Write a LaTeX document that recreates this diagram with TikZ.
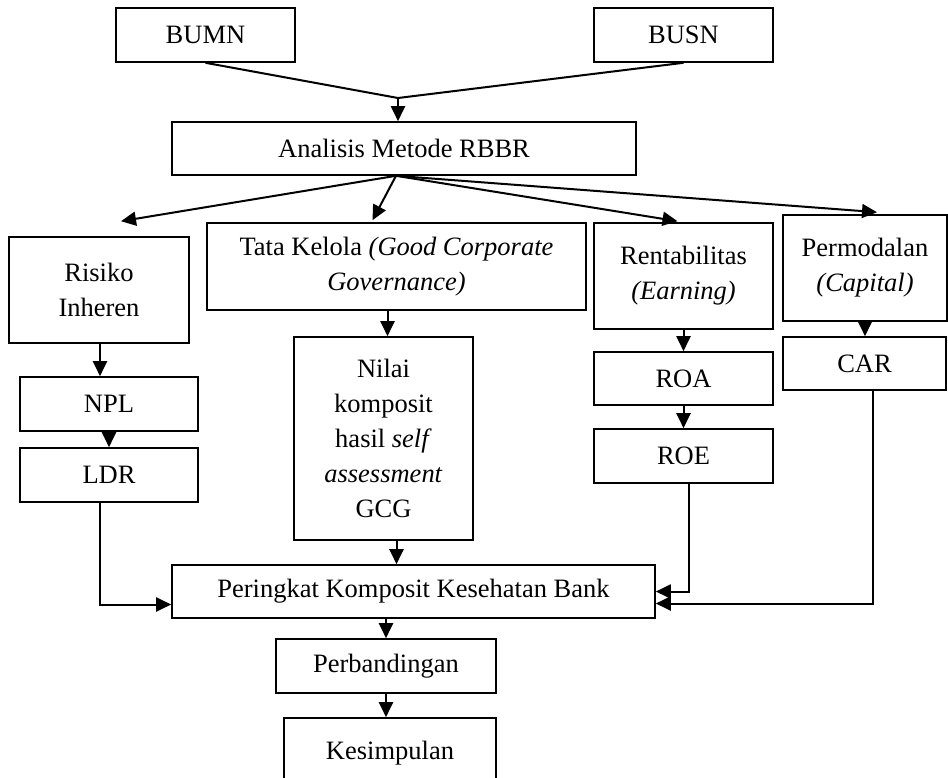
\documentclass[tikz,border=0pt]{standalone}
\usepackage{fontspec}
\setmainfont{Liberation Serif}
\usetikzlibrary{arrows.meta}

\begin{document}
\begin{tikzpicture}[x=0.5pt, y=-0.5pt,
        box/.style={draw, line width=0.8pt, align=center, inner sep=2pt,
            font=\fontsize{13.25pt}{17.5pt}\selectfont},
        arr/.style={line width=1pt, -{Triangle[width=7pt, length=7.5pt]}},
        con/.style={line width=1pt}]
            \useasboundingbox (0, 0) rectangle (948, 777);
            \node[box, minimum width=89.5pt, minimum height=27pt] (bumn) at (205.5, 35) {BUMN};
            \node[box, minimum width=89.5pt, minimum height=27pt] (busn) at (683.5, 35) {BUSN};
            \node[box, minimum width=232pt, minimum height=26.5pt] (rbbr) at (404, 148.5) {Analisis Metode RBBR};
            \node[box, minimum width=90pt, minimum height=53pt] (risiko) at (99, 290) {Risiko\\Inheren};
            \node[box, minimum width=189.5pt, minimum height=43.5pt] (tata) at (396.5, 266.5) {Tata Kelola \textit{(Good Corporate}\\\textit{Governance)}};
            \node[box, minimum width=89.5pt, minimum height=53pt] (rent) at (683.5, 276) {Rentabilitas\\\textit{(Earning)}};
            \node[box, minimum width=82pt, minimum height=53pt] (modal) at (865, 268) {Permodalan\\\textit{(Capital)}};
            \node[box, minimum width=89pt, minimum height=27pt] (npl) at (109, 404) {NPL};
            \node[box, minimum width=89pt, minimum height=27pt] (ldr) at (109, 475) {LDR};
            \node[box, minimum width=89.5pt, minimum height=101.5pt] (nilai) at (383.5, 438.5) {Nilai\\komposit\\hasil \textit{self}\\\textit{assessment}\\GCG};
            \node[box, minimum width=89.5pt, minimum height=26.5pt] (roa) at (683.5, 378.5) {ROA};
            \node[box, minimum width=89.5pt, minimum height=27pt] (roe) at (683.5, 456) {ROE};
            \node[box, minimum width=81.5pt, minimum height=26.5pt] (car) at (864.5, 363.5) {CAR};
            \node[box, minimum width=241.5pt, minimum height=26.5pt] (peringkat) at (413.5, 591.5) {Peringkat Komposit Kesehatan Bank};
            \node[box, minimum width=110pt, minimum height=27pt] (banding) at (386, 666) {Perbandingan};
            \node[box, minimum width=106pt, minimum height=35pt] (simpul) at (390, 753) {Kesimpulan};

            \coordinate (join) at (398, 98);
            \draw[con] (bumn.south) -- (join) -- (busn.south);
            \draw[arr] (join) -- (join |- rbbr.north);
            \draw[arr] ([xshift=-4pt]rbbr.south) -- ([xshift=11pt, yshift=7.5pt]risiko.north);
            \draw[arr] ([xshift=-4pt]rbbr.south) -- ([xshift=-12pt, yshift=1pt]tata.north);
            \draw[arr] ([xshift=-4pt]rbbr.south) -- ([xshift=-3pt, yshift=0.5pt]rent.north);
            \draw[arr] ([xshift=-4pt]rbbr.south) -- ([xshift=6pt, yshift=1pt]modal.north);

            \draw[arr] ([xshift=0.5pt]risiko.south) -- ([xshift=0.5pt]risiko.south |- npl.north);
            \draw[arr] (npl.south) -- (ldr.north);
            \draw[arr] ([xshift=2pt]nilai.north |- tata.south) -- ([xshift=2pt]nilai.north);
            \draw[arr] (rent.south) -- (roa.north);
            \draw[arr] (roa.south) -- (roe.north);
            \draw[arr] (modal.south) -- (modal.south |- car.north);

            \draw[arr] ([xshift=-4.5pt]ldr.south) |- ([yshift=-6.5pt]peringkat.west);
            \draw[arr] ([xshift=6.5pt]nilai.south) -- ([xshift=6.5pt]nilai.south |- peringkat.north);
            \draw[arr] ([xshift=2.5pt]roe.south) |- (peringkat.east);
            \draw[arr] ([xshift=4pt]car.south) |- ([yshift=-6pt]peringkat.east);

            \draw[arr] (banding.north |- peringkat.south) -- (banding.north);
            \draw[arr] (banding.south) -- (banding.south |- simpul.north);
        \end{tikzpicture}
\end{document}
